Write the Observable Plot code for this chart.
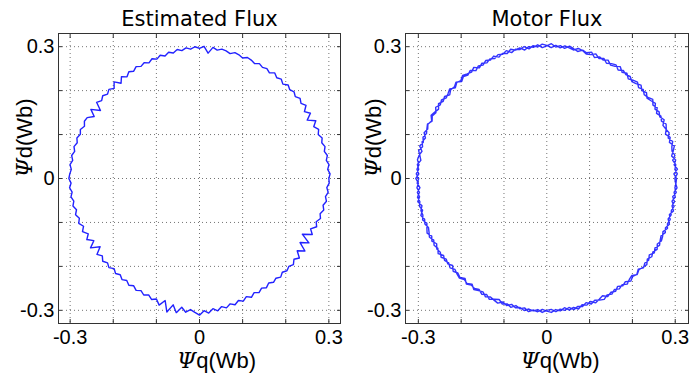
<!DOCTYPE html>
<html>
<head>
<meta charset="utf-8">
<script src="https://cdn.jsdelivr.net/npm/d3@7"></script>
<script src="https://cdn.jsdelivr.net/npm/@observablehq/plot@0.6"></script>
<style>
  html, body { margin: 0; padding: 0; background: #fff; }
  #wrap { display: flex; width: 693px; height: 374px; }
  #wrap svg { display: block; }
</style>
</head>
<body>
<div id="wrap"></div>
<script>
// ---- data ----
const panelTitles = ["Estimated Flux", "Motor Flux"];
const xLabel = "Ψq(Wb)";
const yLabel = "Ψd(Wb)";
const gridTicks = [-0.3, -0.2, -0.1, 0, 0.1, 0.2, 0.3];
const labeledTicks = [-0.3, 0, 0.3];
const labeledTickText = ["-0.3", "0", "0.3"];

// sample angles (degrees) along the flux trajectory
const angleDeg = [
  0,2,4,6,8,10,12,14,16,18,20,22,24,26,28,30,32,34,36,38,
  40,42,44,46,48,50,52,54,56,58,60,62,64,66,68,70,72,74,76,78,
  80,82,84,86,88,90,92,94,96,98,100,102,104,106,108,110,112,114,116,118,
  120,122,124,126,128,130,132,134,136,138,140,142,144,146,148,150,152,154,156,158,
  160,162,164,166,168,170,172,174,176,178,180,182,184,186,188,190,192,194,196,198,
  200,202,204,206,208,210,212,214,216,218,220,222,224,226,228,230,232,234,236,238,
  240,242,244,246,248,250,252,254,256,258,260,262,264,266,268,270,272,274,276,278,
  280,282,284,286,288,290,292,294,296,298,300,302,304,306,308,310,312,314,316,318,
  320,322,324,326,328,330,332,334,336,338,340,342,344,346,348,350,352,354,356,358
];

// flux magnitude (Wb) at each angle, estimated flux
const estimatedRadius = [
  0.300,0.303,0.298,0.302,0.297,0.301,0.296,0.300,0.295,0.299,
  0.293,0.298,0.290,0.300,0.283,0.297,0.287,0.298,0.291,0.296,
  0.290,0.295,0.291,0.296,0.289,0.295,0.291,0.297,0.290,0.295,
  0.292,0.296,0.291,0.295,0.297,0.292,0.296,0.298,0.293,0.297,
  0.299,0.295,0.300,0.286,0.301,0.296,0.300,0.295,0.299,0.294,
  0.298,0.292,0.296,0.290,0.295,0.289,0.294,0.288,0.293,0.289,
  0.294,0.288,0.293,0.286,0.294,0.283,0.296,0.285,0.292,0.287,
  0.293,0.288,0.295,0.277,0.297,0.282,0.295,0.297,0.292,0.298,
  0.294,0.299,0.295,0.300,0.296,0.301,0.297,0.302,0.298,0.301,
  0.303,0.298,0.302,0.297,0.301,0.296,0.300,0.294,0.299,0.293,
  0.298,0.290,0.297,0.287,0.296,0.283,0.298,0.278,0.294,0.286,
  0.293,0.287,0.292,0.285,0.291,0.286,0.292,0.287,0.293,0.288,
  0.294,0.289,0.295,0.290,0.297,0.292,0.303,0.289,0.313,0.294,
  0.310,0.296,0.306,0.299,0.305,0.311,0.301,0.307,0.298,0.304,
  0.296,0.301,0.294,0.299,0.292,0.297,0.290,0.296,0.289,0.294,
  0.288,0.293,0.287,0.292,0.288,0.293,0.287,0.292,0.288,0.293,
  0.286,0.294,0.280,0.295,0.275,0.293,0.270,0.291,0.282,0.293,
  0.288,0.295,0.291,0.297,0.293,0.299,0.295,0.300,0.296,0.301
];

// flux magnitude (Wb), motor flux, two revolutions
const motorRadiusLoop1 = [
  0.303,0.297,0.306,0.299,0.304,0.296,0.302,0.307,0.298,0.303,
  0.295,0.301,0.305,0.298,0.302,0.296,0.304,0.299,0.306,0.300,
  0.297,0.303,0.298,0.305,0.301,0.296,0.304,0.299,0.307,0.301,
  0.298,0.305,0.300,0.303,0.297,0.306,0.301,0.304,0.298,0.302,
  0.306,0.299,0.304,0.300,0.307,0.302,0.298,0.305,0.300,0.303,
  0.297,0.304,0.301,0.306,0.299,0.303,0.298,0.305,0.300,0.304,
  0.298,0.302,0.296,0.304,0.299,0.303,0.297,0.305,0.300,0.302,
  0.296,0.303,0.299,0.305,0.298,0.302,0.306,0.299,0.304,0.300,
  0.305,0.298,0.303,0.299,0.306,0.301,0.297,0.304,0.300,0.305,
  0.299,0.303,0.297,0.304,0.300,0.306,0.298,0.303,0.301,0.305,
  0.298,0.302,0.306,0.299,0.304,0.297,0.303,0.300,0.305,0.298,
  0.302,0.296,0.304,0.299,0.303,0.297,0.305,0.300,0.302,0.298,
  0.304,0.299,0.306,0.301,0.297,0.304,0.300,0.305,0.298,0.303,
  0.299,0.306,0.301,0.304,0.298,0.302,0.305,0.299,0.303,0.297,
  0.304,0.300,0.306,0.299,0.303,0.298,0.305,0.301,0.297,0.304,
  0.299,0.303,0.296,0.302,0.298,0.305,0.300,0.303,0.297,0.304,
  0.299,0.302,0.296,0.303,0.298,0.304,0.300,0.297,0.303,0.299,
  0.305,0.298,0.302,0.300,0.304,0.297,0.303,0.299,0.305,0.301
];
const motorRadiusLoop2 = [
  0.299,0.305,0.300,0.303,0.297,0.304,0.299,0.301,0.306,0.298,
  0.304,0.300,0.297,0.305,0.299,0.303,0.298,0.306,0.301,0.297,
  0.304,0.299,0.306,0.300,0.297,0.303,0.300,0.304,0.298,0.305,
  0.302,0.297,0.304,0.299,0.306,0.300,0.298,0.303,0.305,0.299,
  0.302,0.305,0.299,0.304,0.298,0.303,0.306,0.300,0.304,0.298,
  0.305,0.300,0.303,0.298,0.306,0.301,0.304,0.299,0.303,0.298,
  0.303,0.297,0.305,0.299,0.302,0.306,0.300,0.303,0.297,0.305,
  0.301,0.298,0.304,0.300,0.306,0.299,0.303,0.298,0.305,0.302,
  0.299,0.304,0.300,0.306,0.298,0.303,0.305,0.300,0.304,0.299,
  0.306,0.300,0.304,0.299,0.305,0.301,0.304,0.299,0.306,0.300,
  0.303,0.298,0.301,0.305,0.299,0.304,0.300,0.306,0.298,0.303,
  0.299,0.304,0.298,0.302,0.305,0.300,0.303,0.297,0.305,0.301,
  0.298,0.305,0.300,0.303,0.306,0.299,0.304,0.298,0.303,0.300,
  0.305,0.300,0.303,0.299,0.305,0.300,0.298,0.304,0.299,0.303,
  0.298,0.305,0.300,0.303,0.297,0.304,0.299,0.303,0.306,0.300,
  0.304,0.298,0.303,0.299,0.305,0.300,0.297,0.304,0.299,0.302,
  0.305,0.298,0.303,0.299,0.304,0.298,0.303,0.301,0.297,0.304,
  0.300,0.303,0.298,0.305,0.299,0.303,0.297,0.304,0.300,0.302
];

// ---- build point tables (polar -> q,d) ----
function toPoints(loops) {
  const pts = [];
  for (const radii of loops) {
    radii.forEach((r, i) => {
      const a = angleDeg[i] * Math.PI / 180;
      pts.push({q: r * Math.cos(a), d: r * Math.sin(a)});
    });
  }
  pts.push(pts[0]); // close the trajectory
  return pts;
}
const estimatedPoints = toPoints([estimatedRadius]);
const motorPoints = toPoints([motorRadiusLoop1, motorRadiusLoop2]);

const tickFont = "Liberation Sans, Arial, sans-serif";
const tickText = d => labeledTickText[labeledTicks.indexOf(d)];

function panel({title, points, width, marginLeft, marginRight, xDomain, yDomain, stroke, strokeWidth, strokeOpacity, xdx, ydx}) {
  return Plot.plot({
    width, height: 374,
    marginLeft, marginRight, marginTop: 33, marginBottom: 51,
    x: {domain: xDomain, axis: null},
    y: {domain: yDomain, axis: null},
    style: {fontFamily: tickFont, background: "#fff"},
    marks: [
      Plot.gridX(gridTicks, {stroke: "#000", strokeOpacity: 0.55, strokeDasharray: "1,3"}),
      Plot.gridY(gridTicks, {stroke: "#000", strokeOpacity: 0.55, strokeDasharray: "1,3"}),
      Plot.line(points, {x: "q", y: "d", stroke, strokeWidth, strokeOpacity, strokeLinejoin: "round", curve: "linear"}),
      Plot.frame({stroke: "#333", strokeWidth: 1}),
      Plot.axisX({anchor: "bottom", ticks: gridTicks, tickSize: -4, tickFormat: () => "", label: null, stroke: "#333"}),
      Plot.axisX({anchor: "top", ticks: gridTicks, tickSize: -4, tickFormat: () => "", label: null, stroke: "#333"}),
      Plot.axisY({anchor: "left", ticks: gridTicks, tickSize: -4, tickFormat: () => "", label: null, stroke: "#333"}),
      Plot.axisY({anchor: "right", ticks: gridTicks, tickSize: -4, tickFormat: () => "", label: null, stroke: "#333"}),
      Plot.text(labeledTicks, {x: d => d, frameAnchor: "bottom", dy: 14, text: tickText, fontSize: 20, fill: "#000", lineAnchor: "middle"}),
      Plot.text(labeledTicks, {y: d => d, frameAnchor: "left", dx: -4, text: tickText, fontSize: 20, fill: "#000", textAnchor: "end"}),
      Plot.text([title], {frameAnchor: "top", dy: -14, text: d => d, fontSize: 21, fontFamily: "DejaVu Sans, sans-serif", fill: "#000", lineAnchor: "middle"}),
      Plot.text([xLabel], {frameAnchor: "bottom", dy: 37, dx: xdx, text: d => d, fontSize: 22, fill: "#000", lineAnchor: "middle"}),
      Plot.text([yLabel], {frameAnchor: "left", dx: ydx, dy: -1, rotate: -90, text: d => d, fontSize: 22, fill: "#000", lineAnchor: "middle"})
    ]
  });
}

const left = panel({
  title: panelTitles[0], points: estimatedPoints,
  width: 346, marginLeft: 58, marginRight: 6,
  xDomain: [-0.327, 0.327], yDomain: [-0.33, 0.33],
  stroke: "#0a0aff", strokeWidth: 1.4, strokeOpacity: 0.9, xdx: 17, ydx: -34
});
const right = panel({
  title: panelTitles[1], points: motorPoints,
  width: 347, marginLeft: 59, marginRight: 5,
  xDomain: [-0.33, 0.331], yDomain: [-0.33, 0.33],
  stroke: "#1010ff", strokeWidth: 1.4, strokeOpacity: 0.85, xdx: 13, ydx: -32
});

// italic Greek psi in axis labels
for (const svg of [left, right]) {
  d3.select(svg).selectAll("text").each(function() {
    const t = this.textContent;
    if (t === xLabel || t === yLabel) {
      const sel = d3.select(this);
      sel.text(null);
      sel.append("tspan")
        .style("font-family", "'DejaVu Serif', 'Liberation Serif', serif")
        .style("font-style", "italic")
        .text(t[0]);
      sel.append("tspan").text(t.slice(1));
    }
  });
}

const wrap = document.getElementById("wrap");
wrap.appendChild(left);
wrap.appendChild(right);
</script>
</body>
</html>
